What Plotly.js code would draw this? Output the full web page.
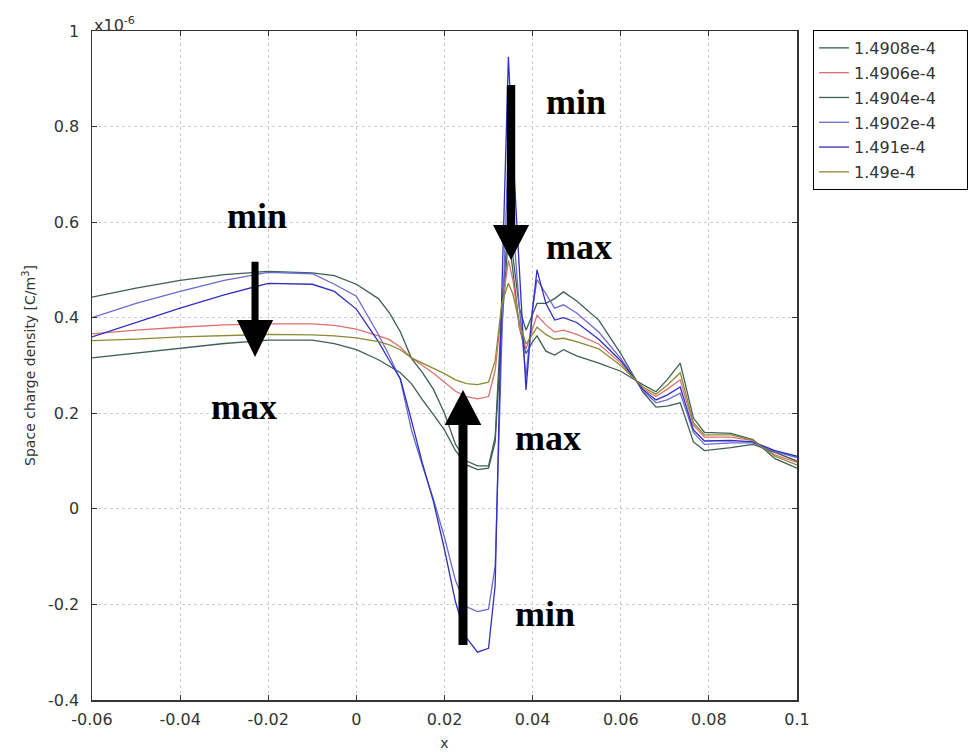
<!DOCTYPE html>
<html>
<head>
<meta charset="utf-8">
<script src="https://cdn.plot.ly/plotly-3.0.1.min.js"></script>
<style>html,body{margin:0;padding:0;background:#fff;}#chart{width:973px;height:753px;}</style>
</head>
<body>
<div id="chart"></div>
<script>
// x positions [m]
const xPos = [-0.06, -0.05, -0.04, -0.03, -0.02, -0.01, -0.005, 0, 0.005, 0.0075, 0.01, 0.0125, 0.015, 0.0175, 0.02, 0.0225, 0.025, 0.0275, 0.03, 0.0315, 0.033, 0.0345, 0.0355, 0.037, 0.0385, 0.04, 0.041, 0.043, 0.045, 0.047, 0.05, 0.055, 0.06, 0.065, 0.068, 0.0705, 0.0735, 0.0765, 0.079, 0.085, 0.09, 0.095, 0.1];

// Space charge density, in units of 1e-6 C/m^3
const rho_14908 = [0.316, 0.326, 0.336, 0.346, 0.353, 0.353, 0.346, 0.333, 0.312, 0.298, 0.285, 0.262, 0.228, 0.197, 0.165, 0.122, 0.092, 0.082, 0.085, 0.14, 0.38, 0.57, 0.5, 0.38, 0.325, 0.35, 0.362, 0.33, 0.322, 0.333, 0.32, 0.305, 0.288, 0.26, 0.245, 0.27, 0.305, 0.19, 0.16, 0.158, 0.145, 0.105, 0.085];
const rho_14906 = [0.366, 0.374, 0.38, 0.385, 0.387, 0.387, 0.384, 0.376, 0.362, 0.354, 0.338, 0.316, 0.3, 0.284, 0.265, 0.246, 0.235, 0.23, 0.235, 0.29, 0.42, 0.52, 0.48, 0.38, 0.335, 0.38, 0.405, 0.385, 0.37, 0.374, 0.365, 0.345, 0.305, 0.252, 0.235, 0.25, 0.27, 0.175, 0.15, 0.15, 0.143, 0.113, 0.097];
const rho_14904 = [0.443, 0.462, 0.478, 0.49, 0.497, 0.494, 0.488, 0.47, 0.44, 0.41, 0.37, 0.315, 0.285, 0.25, 0.2, 0.135, 0.1, 0.09, 0.09, 0.15, 0.42, 0.6, 0.53, 0.42, 0.374, 0.41, 0.43, 0.43, 0.44, 0.454, 0.435, 0.395, 0.325, 0.245, 0.213, 0.215, 0.222, 0.14, 0.122, 0.128, 0.135, 0.118, 0.1];
const rho_14902 = [0.40, 0.43, 0.455, 0.478, 0.495, 0.492, 0.47, 0.445, 0.365, 0.32, 0.27, 0.165, 0.09, 0.02, -0.06, -0.15, -0.205, -0.215, -0.21, -0.12, 0.35, 0.76, 0.6, 0.42, 0.276, 0.42, 0.48, 0.45, 0.42, 0.427, 0.41, 0.37, 0.315, 0.248, 0.222, 0.228, 0.242, 0.16, 0.135, 0.138, 0.138, 0.12, 0.107];
const rho_1491 = [0.36, 0.39, 0.42, 0.448, 0.472, 0.47, 0.455, 0.418, 0.35, 0.31, 0.272, 0.185, 0.095, 0.015, -0.085, -0.195, -0.27, -0.3, -0.292, -0.16, 0.45, 0.946, 0.75, 0.5, 0.249, 0.42, 0.50, 0.43, 0.395, 0.40, 0.39, 0.355, 0.31, 0.25, 0.228, 0.238, 0.255, 0.165, 0.142, 0.143, 0.14, 0.122, 0.11];
const rho_149 = [0.352, 0.355, 0.36, 0.363, 0.365, 0.364, 0.362, 0.358, 0.35, 0.343, 0.333, 0.316, 0.305, 0.295, 0.283, 0.27, 0.262, 0.26, 0.265, 0.31, 0.43, 0.472, 0.45, 0.39, 0.345, 0.365, 0.38, 0.365, 0.355, 0.357, 0.35, 0.335, 0.3, 0.255, 0.24, 0.258, 0.285, 0.18, 0.155, 0.155, 0.144, 0.11, 0.092];

const seriesNames = ['1.4908e-4', '1.4906e-4', '1.4904e-4', '1.4902e-4', '1.491e-4', '1.49e-4'];
const seriesData = [rho_14908, rho_14906, rho_14904, rho_14902, rho_1491, rho_149];
const seriesColors = ['#3f5f52', '#e07070', '#3f5f52', '#6a6ad2', '#3030c0', '#8a8a34'];

const xTickVals = [-0.06, -0.04, -0.02, 0, 0.02, 0.04, 0.06, 0.08, 0.1];
const xTickText = ['-0.06', '-0.04', '-0.02', '0', '0.02', '0.04', '0.06', '0.08', '0.1'];
const yTickVals = [-0.4, -0.2, 0, 0.2, 0.4, 0.6, 0.8, 1];
const yTickText = ['-0.4', '-0.2', '0', '0.2', '0.4', '0.6', '0.8', '1'];

const traces = seriesData.map((ys, i) => ({
  type: 'scatter', mode: 'lines', x: xPos, y: ys,
  name: seriesNames[i] + '\u00a0\u00a0\u00a0\u00a0\u00a0',
  legendgroup: 'g' + i,
  line: {color: seriesColors[i], width: 1.3},
  hoverinfo: 'skip'
}));

function arrowPath(cx, yStart, yBase, yTip, hw, hh) {
  return 'M' + (cx - hw) + ',' + yStart + ' L' + (cx + hw) + ',' + yStart +
         ' L' + (cx + hw) + ',' + yBase + ' L' + (cx + hh) + ',' + yBase +
         ' L' + cx + ',' + yTip + ' L' + (cx - hh) + ',' + yBase +
         ' L' + (cx - hw) + ',' + yBase + ' Z';
}
const arrowShapes = [
  arrowPath(-0.0230, 0.5173, 0.3952, 0.3178, 0.0008, 0.0041),
  arrowPath(0.0351, 0.887, 0.594, 0.5208, 0.00095, 0.0041),
  arrowPath(0.0242, -0.2849, 0.1755, 0.2487, 0.00102, 0.00416)
].map(p => ({type: 'path', xref: 'x', yref: 'y', path: p, fillcolor: '#000', line: {width: 0}, layer: 'above'}));

const labelFont = {family: 'Liberation Serif, Times New Roman, serif', size: 36, color: '#000', weight: 'bold'};
const textLabels = [
  {t: 'min', x: -0.02255, y: 0.612},
  {t: 'max', x: -0.0255, y: 0.214},
  {t: 'min', x: 0.0498, y: 0.852},
  {t: 'max', x: 0.0506, y: 0.549},
  {t: 'max', x: 0.0434, y: 0.149},
  {t: 'min', x: 0.0429, y: -0.219}
].map(a => ({text: '<b>' + a.t + '</b>', x: a.x, y: a.y, xref: 'x', yref: 'y', showarrow: false,
  xanchor: 'center', yanchor: 'middle', font: labelFont}));

textLabels.push({text: 'x10<sup>-6</sup>', xref: 'paper', yref: 'paper', x: 0, y: 1, xanchor: 'left', yanchor: 'bottom',
  yshift: -6, showarrow: false, font: {family: 'DejaVu Sans, sans-serif', size: 16, color: '#333'}});

const axisCommon = {
  ticks: 'inside', ticklen: 5, tickcolor: '#333', tickwidth: 1,
  showline: true, linecolor: '#333', linewidth: 1.5, mirror: 'ticks',
  showgrid: true, gridcolor: '#cfcfcf', griddash: 'dot', gridwidth: 1,
  zeroline: false, tickfont: {family: 'DejaVu Sans, sans-serif', size: 16, color: '#333'}
};

const layout = {
  width: 973, height: 753,
  margin: {l: 92, r: 176, t: 31, b: 53, pad: 0},
  paper_bgcolor: '#fff', plot_bgcolor: '#fff',
  font: {family: 'DejaVu Sans, sans-serif', size: 16, color: '#333'},
  xaxis: Object.assign({}, axisCommon, {
    range: [-0.06, 0.1], tickmode: 'array', tickvals: xTickVals, ticktext: xTickText,
    ticklabelstandoff: 4,
    title: {text: 'x', font: {size: 14, color: '#333'}, standoff: 10}
  }),
  yaxis: Object.assign({}, axisCommon, {
    range: [-0.4, 1], tickmode: 'array', tickvals: yTickVals, ticktext: yTickText,
    ticklabelstandoff: 8,
    title: {text: 'Space charge density [C/m<sup>3</sup>]', font: {size: 14, color: '#333'}, standoff: 9}
  }),
  showlegend: true,
  legend: {xref: 'container', yref: 'container', x: 0.8356, y: 0.9602, xanchor: 'left', yanchor: 'top',
    bordercolor: '#000', borderwidth: 1,
    bgcolor: '#fff', font: {family: 'DejaVu Sans, sans-serif', size: 16, color: '#333'},
    traceorder: 'grouped', tracegroupgap: 1},
  shapes: arrowShapes,
  annotations: textLabels
};

Plotly.newPlot('chart', traces, layout, {staticPlot: true, displayModeBar: false});
</script>
</body>
</html>
